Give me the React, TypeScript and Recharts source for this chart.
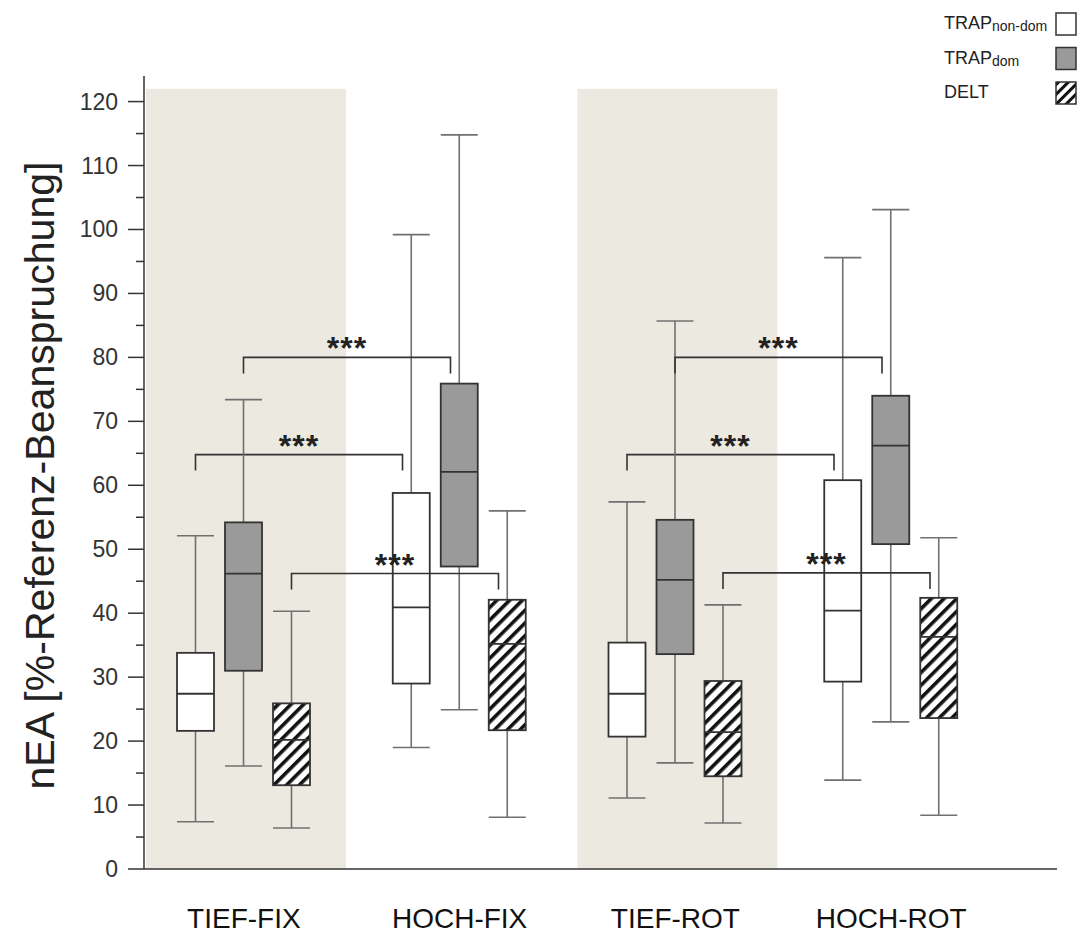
import React from 'react';
import { ComposedChart, Bar, XAxis, YAxis } from 'recharts';

const GROUPS = ['TIEF-FIX', 'HOCH-FIX', 'TIEF-ROT', 'HOCH-ROT'];
const SHADED = [true, false, true, false];

// each box: [min, q1, median, q3, max]
const TRAP_NONDOM = [
  [7.4, 21.6, 27.4, 33.8, 52.1],
  [19.0, 29.0, 40.9, 58.8, 99.2],
  [11.1, 20.7, 27.4, 35.4, 57.4],
  [13.9, 29.3, 40.4, 60.8, 95.6],
];
const TRAP_DOM = [
  [16.1, 31.0, 46.2, 54.2, 73.4],
  [24.9, 47.3, 62.1, 75.9, 114.8],
  [16.6, 33.6, 45.2, 54.6, 85.7],
  [23.0, 50.8, 66.2, 74.0, 103.1],
];
const DELT = [
  [6.4, 13.1, 20.2, 25.9, 40.3],
  [8.1, 21.7, 35.2, 42.1, 56.0],
  [7.2, 14.5, 21.4, 29.4, 41.3],
  [8.4, 23.6, 36.3, 42.4, 51.8],
];

// significance brackets TIEF -> HOCH, level per series
const SIG_NONDOM = [64.8, null, 64.8, null];
const SIG_DOM = [80.0, null, 80.0, null];
const SIG_DELT = [46.2, null, 46.3, null];
const SIG_LABEL = '***';

const Y_TICKS = [0, 5, 10, 15, 20, 25, 30, 35, 40, 45, 50, 55, 60, 65, 70, 75, 80, 85, 90, 95, 100, 105, 110, 115, 120];
const SHADE_RANGE = [0, 122];
const Y_TITLE = 'nEA [%-Referenz-Beanspruchung]';

const LEGEND = [
  { name: 'TRAP', sub: 'non-dom', key: 'nondom' },
  { name: 'TRAP', sub: 'dom', key: 'dom' },
  { name: 'DELT', sub: '', key: 'delt' },
];

const data = GROUPS.map((group, i) => ({
  group,
  nondom: TRAP_NONDOM[i],
  dom: TRAP_DOM[i],
  delt: DELT[i],
  sig_nondom: SIG_NONDOM[i],
  sig_dom: SIG_DOM[i],
  sig_delt: SIG_DELT[i],
  shade: SHADED[i] ? SHADE_RANGE : null,
}));

const FONT = "'Liberation Sans', Arial, sans-serif";
const BOX_STROKE = '#333';
const WHISKER = '#707070';
const FILLS: Record<string, string> = { nondom: '#ffffff', dom: '#9a9a9a', delt: 'url(#hatch)' };
const BRACKET_SPAN = 207;
const X_PAD = { left: -8, right: 58 };

function BoxShape(props: any) {
  const { x, y, width, height, payload, seriesKey } = props;
  const stats = payload?.[seriesKey];
  if (!stats) return <g />;
  const [lo, q1, med, q3, hi] = stats;
  const top = Math.min(y, y + height);
  const bottom = Math.max(y, y + height);
  const toY = (v: number) => bottom - ((v - lo) / (hi - lo)) * (bottom - top);
  const cx = x + width / 2;
  const yQ1 = toY(q1);
  const yQ3 = toY(q3);
  const sig = payload[`sig_${seriesKey}`];
  return (
    <g>
      <line x1={cx} x2={cx} y1={top} y2={yQ3} stroke={WHISKER} strokeWidth={1.6} />
      <line x1={cx} x2={cx} y1={yQ1} y2={bottom} stroke={WHISKER} strokeWidth={1.6} />
      <line x1={x} x2={x + width} y1={top} y2={top} stroke={WHISKER} strokeWidth={1.6} />
      <line x1={x} x2={x + width} y1={bottom} y2={bottom} stroke={WHISKER} strokeWidth={1.6} />
      <rect x={x} y={yQ3} width={width} height={yQ1 - yQ3} fill="#fff" />
      <rect x={x} y={yQ3} width={width} height={yQ1 - yQ3} fill={FILLS[seriesKey]} stroke={BOX_STROKE} strokeWidth={1.8} />
      <line x1={x} x2={x + width} y1={toY(med)} y2={toY(med)} stroke={BOX_STROKE} strokeWidth={1.8} />
      {sig != null && (
        <g>
          <path
            d={`M${cx},${toY(sig) + 16} V${toY(sig)} H${cx + BRACKET_SPAN} V${toY(sig) + 16}`}
            fill="none"
            stroke="#333"
            strokeWidth={1.6}
          />
          <text
            x={cx + BRACKET_SPAN / 2}
            y={toY(sig) + 2}
            textAnchor="middle"
            fontSize={32}
            fontWeight="bold"
            letterSpacing={1}
            fill="#222"
            fontFamily={FONT}
          >
            {SIG_LABEL}
          </text>
        </g>
      )}
    </g>
  );
}

function ShadeShape(props: any) {
  const { x, y, width, height, payload } = props;
  if (!payload?.shade) return <g />;
  return <rect x={x + 2} y={Math.min(y, y + height)} width={width} height={Math.abs(height)} fill="#ece9e0" />;
}

function XTick(props: any) {
  const { x, y, payload } = props;
  return (
    <text x={x} y={y + 51} textAnchor="middle" fontSize={28} fill="#111" fontFamily={FONT}>
      {payload.value}
    </text>
  );
}

function YTick(props: any) {
  const { x, y, payload } = props;
  const v = payload.value;
  const major = v % 10 === 0;
  return (
    <g>
      <line x1={x - (major ? 16 : 8)} x2={x} y1={y} y2={y} stroke="#333" strokeWidth={1.5} />
      {major && (
        <text x={x - 26} y={y + 8} textAnchor="end" fontSize={23} fill="#333" fontFamily={FONT}>
          {v}
        </text>
      )}
    </g>
  );
}

function YTitle(props: any) {
  const vb = props.viewBox || { x: 0, y: 76, width: 144, height: 793 };
  const cx = vb.x + 40;
  const cy = vb.y + vb.height / 2 + 3;
  return (
    <text
      x={cx}
      y={cy}
      transform={`rotate(-90, ${cx}, ${cy})`}
      textAnchor="middle"
      dominantBaseline="central"
      fontSize={40}
      textLength={628}
      lengthAdjust="spacingAndGlyphs"
      fill="#222"
      fontFamily={FONT}
    >
      {Y_TITLE}
    </text>
  );
}

function LegendBox() {
  return (
    <svg width={1079} height={120} style={{ position: 'absolute', left: 0, top: 0, pointerEvents: 'none' }}>
      <defs>
        <pattern id="hatchLegend" patternUnits="userSpaceOnUse" width={7} height={7} patternTransform="rotate(45)">
          <rect width={7} height={7} fill="#fff" />
          <rect width={3} height={7} fill="#111" />
        </pattern>
      </defs>
      {LEGEND.map((item, i) => {
        const rowY = 13 + i * 34.5;
        return (
          <g key={item.key}>
            <text x={944} y={rowY + 16} fontSize={18} fill="#222" fontFamily={FONT}>
              {item.name}
              {item.sub && (
                <tspan fontSize={14} dy={2}>
                  {item.sub}
                </tspan>
              )}
            </text>
            <rect
              x={1056}
              y={rowY}
              width={20}
              height={22}
              fill={item.key === 'delt' ? 'url(#hatchLegend)' : FILLS[item.key]}
              stroke="#333"
              strokeWidth={1.5}
            />
          </g>
        );
      })}
    </svg>
  );
}

export default function App() {
  return (
    <div style={{ position: 'absolute', left: 0, top: 0, width: 1079, height: 933, background: '#fff' }}>
      <ComposedChart
        width={1079}
        height={933}
        data={data}
        margin={{ top: 76, right: 22, bottom: 0, left: 0 }}
        barGap={11}
      >
        <defs>
          <pattern id="hatch" patternUnits="userSpaceOnUse" width={9} height={9} patternTransform="rotate(45)">
            <rect width={9} height={9} fill="#fff" />
            <rect width={3.6} height={9} fill="#111" />
          </pattern>
        </defs>
        <XAxis
          xAxisId="main"
          dataKey="group"
          padding={X_PAD}
          height={64}
          interval={0}
          tickLine={false}
          axisLine={{ stroke: '#333', strokeWidth: 1.5 }}
          tick={<XTick />}
        />
        <XAxis xAxisId="bg" dataKey="group" hide height={0} padding={X_PAD} />
        <YAxis
          domain={[0, 124]}
          ticks={Y_TICKS}
          interval={0}
          width={144}
          tickSize={0}
          tickMargin={0}
          tickLine={false}
          axisLine={{ stroke: '#333', strokeWidth: 1.5 }}
          tick={<YTick />}
          label={<YTitle />}
        />
        <Bar
          xAxisId="bg"
          dataKey="shade"
          barSize={200}
          shape={<ShadeShape />}
          isAnimationActive={false}
        />
        <Bar
          xAxisId="main"
          dataKey={(d: any) => [d.nondom[0], d.nondom[4]]}
          barSize={37}
          shape={(p: any) => <BoxShape {...p} seriesKey="nondom" />}
          isAnimationActive={false}
        />
        <Bar
          xAxisId="main"
          dataKey={(d: any) => [d.dom[0], d.dom[4]]}
          barSize={37}
          shape={(p: any) => <BoxShape {...p} seriesKey="dom" />}
          isAnimationActive={false}
        />
        <Bar
          xAxisId="main"
          dataKey={(d: any) => [d.delt[0], d.delt[4]]}
          barSize={37}
          shape={(p: any) => <BoxShape {...p} seriesKey="delt" />}
          isAnimationActive={false}
        />
      </ComposedChart>
      <LegendBox />
    </div>
  );
}
